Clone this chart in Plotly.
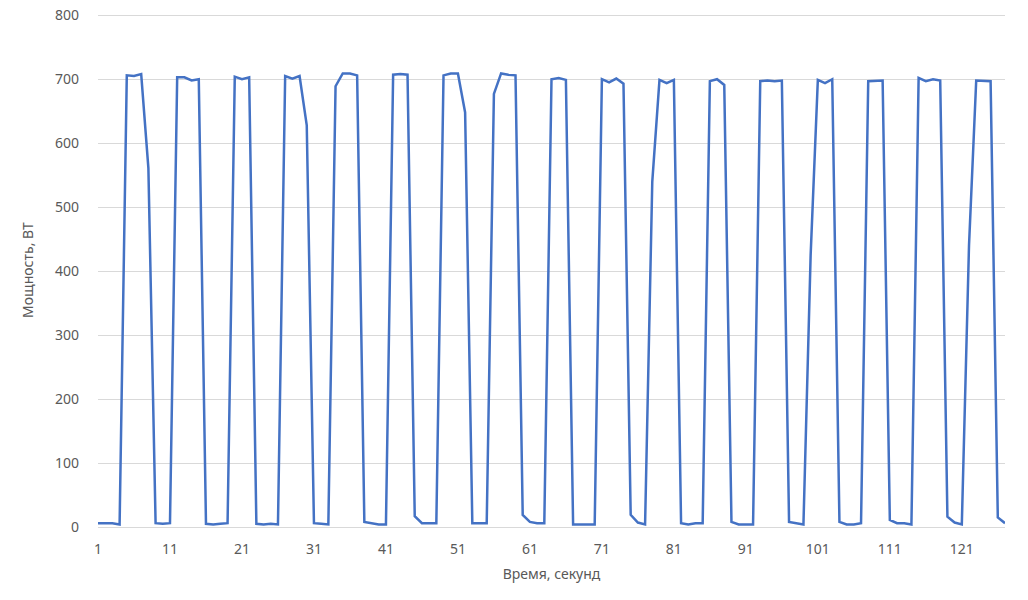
import plotly.graph_objects as go

seconds = list(range(1, 128))
power = [
    6, 6, 6, 4, 706, 705, 708, 561, 6, 5,
    6, 703, 703, 698, 700, 5, 4, 5, 6, 704,
    700, 703, 5, 4, 5, 4, 705, 701, 705, 628,
    6, 5, 4, 689, 709, 709, 706, 8, 6, 4,
    4, 707, 708, 707, 17, 6, 6, 6, 706, 709,
    709, 648, 6, 6, 6, 677, 709, 707, 706, 19,
    8, 6, 6, 700, 702, 699, 4, 4, 4, 4,
    700, 695, 701, 693, 19, 7, 4, 540, 699, 694,
    699, 6, 4, 6, 6, 697, 700, 691, 8, 4,
    4, 4, 697, 698, 697, 698, 8, 6, 4, 425,
    699, 694, 700, 8, 4, 4, 6, 697, 697, 698,
    11, 6, 6, 4, 702, 697, 700, 698, 16, 7,
    4, 440, 698, 697, 697, 15, 6,
]
x_ticks = [1, 11, 21, 31, 41, 51, 61, 71, 81, 91, 101, 111, 121]
y_ticks = [0, 100, 200, 300, 400, 500, 600, 700, 800]

font_family = "Noto Sans, Open Sans, sans-serif"
grey = "#595959"

fig = go.Figure()
fig.add_trace(go.Scatter(
    x=seconds, y=power, mode="lines",
    line=dict(color="#4472C4", width=2.5),
    showlegend=False,
))

fig.update_layout(
    width=1028, height=600,
    margin=dict(l=98, r=23, t=13, b=73),
    paper_bgcolor="white", plot_bgcolor="white",
    font=dict(family=font_family, size=14, color=grey),
    xaxis=dict(
        range=[1, 127], tickmode="array", tickvals=x_ticks,
        ticktext=[str(v) for v in x_ticks],
        showgrid=False, zeroline=False,
        showline=True, linecolor="#d9d9d9", linewidth=1,
        ticks="", ticklabelstandoff=9, automargin=False,
        title=dict(text="Время, секунд", font=dict(size=14, color=grey), standoff=12),
    ),
    yaxis=dict(
        range=[0, 803.5], tickmode="array", tickvals=y_ticks,
        ticktext=[str(v) for v in y_ticks],
        showgrid=True, gridcolor="#d9d9d9", gridwidth=1,
        zeroline=False, showline=False, automargin=False,
        ticks="", ticklabelstandoff=18,
        title=dict(text="Мощность, ВТ", font=dict(size=14, color=grey), standoff=18),
    ),
)

fig.write_html(
    "out.html",
    config={"displayModeBar": False},
    post_script="document.body.style.margin='0';document.body.style.overflow='hidden';",
)
